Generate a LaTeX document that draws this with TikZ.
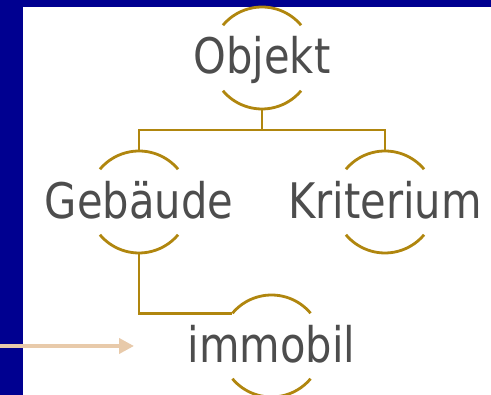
\documentclass[tikz,border=0pt]{standalone}
\usepackage{fontspec}
\newfontfamily\diagfont[FakeStretch=0.85]{DejaVu Sans}
\usetikzlibrary{arrows.meta}
\definecolor{bgblue}{RGB}{0,0,144}
\definecolor{gold}{RGB}{176,134,14}
\definecolor{txtgray}{RGB}{77,77,77}
\definecolor{tan}{RGB}{232,202,170}
\begin{document}
\begin{tikzpicture}[x=1pt,y=1pt,
  ring/.style={circle,minimum size=102pt,inner sep=0pt,draw=none},
  word/.style={anchor=base,inner sep=0pt,text=txtgray,font=\diagfont\fontsize{49}{58}\selectfont},
  arcline/.style={draw=gold,line width=2.8pt},
  link/.style={draw=gold,line width=2.8pt}]
\useasboundingbox (0,0) rectangle (491,395);
\fill[bgblue] (0,0) rectangle (491,395);
\fill[white] (23,0) rectangle (491,388);
% ring nodes
\node[ring] (obj) at (262,337) {};
\node[ring] (geb) at (139,193) {};
\node[ring] (kri) at (385,193) {};
\node[ring] (imm) at (271.5,49) {};
% texts
\node[word] (objt) at (262,321) {Objekt};
\node[word] (gebt) at (139,176) {Gebäude};
\node[word] (krit) at (385,176) {Kriterium};
\node[word] (immt) at (271.5,32) {immobil};
% arcs
\foreach \n in {obj,geb,kri,imm}{
  \draw[arcline] ([shift={(40:51)}]\n.center) arc[start angle=40,end angle=140,radius=51];
  \draw[arcline] ([shift={(220:51)}]\n.center) arc[start angle=220,end angle=320,radius=51];
}
% connectors
\coordinate (bus) at (262,265);
\draw[link] (obj.south) -- (bus);
\draw[link] (bus) -| (geb.north);
\draw[link] (bus) -| (kri.north);
\coordinate (imml) at ([shift={(140:51)}]imm.center);
\draw[link] (geb.south) |- (imml);
% arrow
\coordinate (arrs) at (0,49);
\coordinate (arre) at (134,49);
\draw[draw=tan,line width=4pt,-{Triangle[length=15pt,width=15pt]}] (arrs) -- (arre);
\end{tikzpicture}
\end{document}
